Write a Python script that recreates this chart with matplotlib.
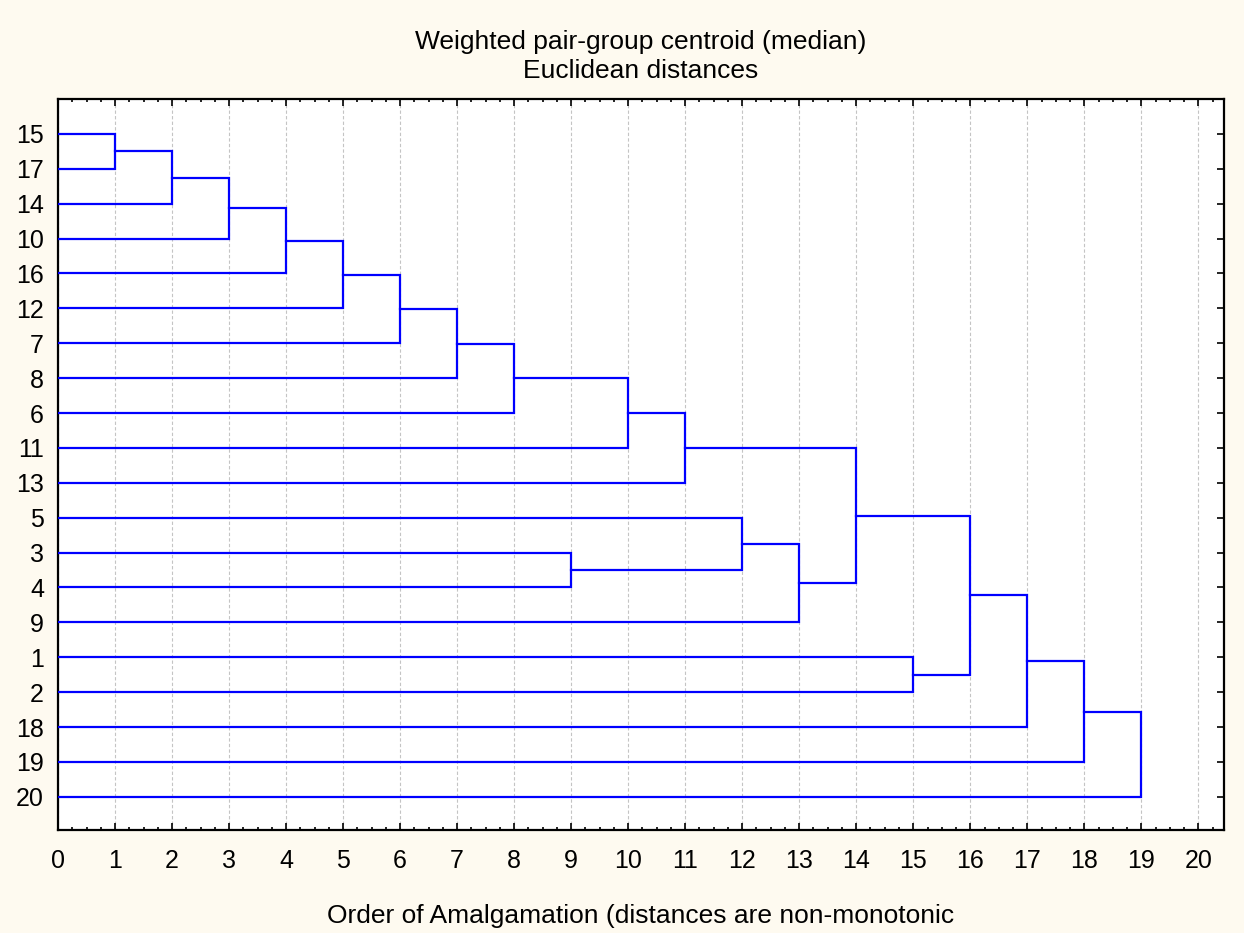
import numpy as np
import matplotlib.pyplot as plt
from matplotlib.ticker import MultipleLocator

plt.rcParams['font.family'] = ['Liberation Sans', 'DejaVu Sans']

# leaf labels, top to bottom
leaves = ["15", "17", "14", "10", "16", "12", "7", "8", "6", "11",
          "13", "5", "3", "4", "9", "1", "2", "18", "19", "20"]
# amalgamation steps: (first, second); clusters named "c<step>"
merges = [("15", "17"), ("c1", "14"), ("c2", "10"), ("c3", "16"),
          ("c4", "12"), ("c5", "7"), ("c6", "8"), ("c7", "6"),
          ("3", "4"), ("c8", "11"), ("c10", "13"), ("5", "c9"),
          ("c12", "9"), ("c11", "c13"), ("1", "2"), ("c14", "c15"),
          ("c16", "18"), ("c17", "19"), ("c18", "20")]
steps = list(range(1, len(merges) + 1))
xticks = list(range(0, 21))

bg = "#FEFAF0"
fig = plt.figure(figsize=(12.44, 9.33), dpi=100, facecolor=bg)
ax = fig.add_axes([58/1244, 1 - 830/933, (1224-58)/1244, (830-99)/933])

pos = {lab: i + 1 for i, lab in enumerate(leaves)}
height = {lab: 0 for lab in leaves}
for s, (a, b) in zip(steps, merges):
    ya, yb = pos[a], pos[b]
    xa, xb = height[a], height[b]
    ax.plot([xa, s, s, xb], [ya, ya, yb, yb], color="#0000FF", lw=1.6,
            solid_joinstyle="miter", zorder=3)
    name = "c%d" % s
    pos[name] = (ya + yb) / 2
    height[name] = s

ax.set_xlim(0, 20.45)
ax.set_ylim(20.95, 0)
ax.set_xticks(xticks)
ax.xaxis.set_minor_locator(MultipleLocator(0.25))
ax.set_yticks(range(1, len(leaves) + 1))
ax.set_yticklabels(leaves)
ax.grid(axis="x", which="major", color="#C4C4C4", linestyle=(0, (3, 2)), lw=0.8)
ax.tick_params(which="both", direction="in", top=True, right=True,
               labelsize=18, width=1.2, color="black")
ax.tick_params(which="major", length=5, pad=14)
ax.tick_params(which="minor", length=2.5)
ax.tick_params(axis="y", pad=10)
for sp in ax.spines.values():
    sp.set_linewidth(1.6)
ax.set_facecolor("white")

ax.set_title("Weighted pair-group centroid (median)\nEuclidean distances",
             fontsize=19, pad=15, linespacing=1.25)
ax.set_xlabel("Order of Amalgamation (distances are non-monotonic",
              fontsize=19, labelpad=22)

fig.savefig("out.png", dpi=100, facecolor=bg)
